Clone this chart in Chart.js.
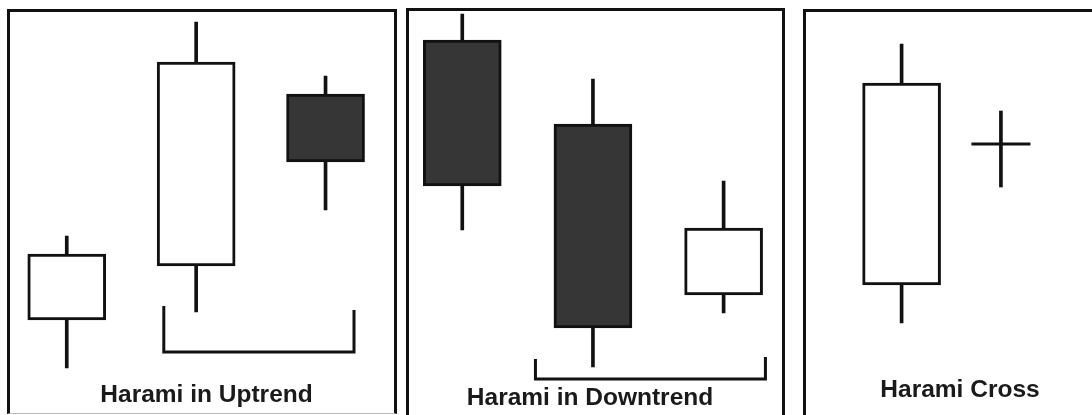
<!DOCTYPE html>
<html>
<head>
<meta charset="utf-8">
<script src="https://cdn.jsdelivr.net/npm/chart.js@4.4.0/dist/chart.umd.min.js"></script>
<style>
  html, body { margin: 0; padding: 0; background: #fff; }
  body { width: 1092px; height: 415px; overflow: hidden; position: relative; }
  .panel { position: absolute; border: 3px solid #111; box-sizing: border-box; }
  canvas { position: absolute; top: 12px; }
</style>
</head>
<body>
<div class="panel" style="left:7px;top:9px;width:390px;height:405px;border-bottom:1px solid #bbb"></div>
<div class="panel" style="left:406px;top:8px;width:379px;height:420px"></div>
<div class="panel" style="left:803px;top:9px;width:400px;height:420px"></div>
<canvas id="uptrend" width="383" height="403" style="left:15px"></canvas>
<canvas id="downtrend" width="360" height="403" style="left:410px"></canvas>
<canvas id="cross" width="236" height="403" style="left:842px"></canvas>
<script>
// harami in uptrend
const upSession = [1, 2, 3];
const upOpen  = [25, 38.5, 81.5];
const upClose = [41.5, 89.5, 64.5];
const upHigh  = [46, 99.5, 86];
const upLow   = [13, 27, 52.5];
const upBracketX = [1.75, 1.75, 3.22, 3.22];
const upBracketY = [28.5, 17, 17, 27.5];

// harami in downtrend
const downSession = [1, 2, 3];
const downOpen  = [95, 74, 31.25];
const downClose = [58.5, 23, 48];
const downHigh  = [101.5, 85.25, 59.75];
const downLow   = [47.5, 13.25, 26.75];
const downBracketX = [1.56, 1.56, 3.32, 3.32];
const downBracketY = [15.25, 10.25, 10.25, 15.75];

// harami cross
const crossSession = [1, 2];
const crossOpen  = [33.75, 69];
const crossClose = [84.25, 69];
const crossHigh  = [94, 77.25];
const crossLow   = [24.25, 58.25];

const ink = "#111";
const darkBody = "#363636";

function desenha_harami(id, titulo, session, open, close, high, low, bracketX, bracketY, xMin, xMax, padTop, padBottom) {
  const idx = session.map((s, i) => i);
  const bodies = idx.filter((i) => open[i] !== close[i]);
  const dojis = idx.filter((i) => open[i] === close[i]);

  const datasets = [
    {
      type: "bar",
      label: "corpo",
      data: bodies.map((i) => ({ x: session[i], y: [open[i], close[i]] })),
      backgroundColor: bodies.map((i) => (close[i] > open[i] ? "#fff" : darkBody)),
      borderColor: ink,
      borderWidth: 3,
      borderSkipped: false,
      barThickness: 78,
      grouped: false,
      order: 1,
      clip: false,
    },
    {
      type: "bar",
      label: "pavio",
      data: idx.map((i) => ({ x: session[i], y: [low[i], high[i]] })),
      backgroundColor: ink,
      borderWidth: 0,
      barThickness: 3,
      grouped: false,
      order: 2,
      clip: false,
    },
  ];

  if (dojis.length) {
    datasets.push({
      type: "line",
      label: "doji",
      data: dojis.map((i) => ({ x: session[i], y: open[i] })),
      showLine: false,
      pointStyle: "line",
      pointRadius: 29.5,
      pointBorderWidth: 3,
      pointBorderColor: ink,
      order: 0,
      clip: false,
    });
  }

  if (bracketX) {
    datasets.push({
      type: "line",
      label: "colchete",
      data: bracketX.map((x, i) => ({ x: x, y: bracketY[i] })),
      borderColor: ink,
      borderWidth: 3,
      pointRadius: 0,
      tension: 0,
      fill: false,
      order: 0,
      clip: false,
    });
  }

  const ctx = document.getElementById(id).getContext("2d");
  return new Chart(ctx, {
    type: "bar",
    data: { datasets: datasets },
    options: {
      responsive: false,
      animation: false,
      events: [],
      layout: { padding: 0, autoPadding: false },
      plugins: {
        legend: { display: false },
        tooltip: { enabled: false },
        title: {
          display: true,
          text: titulo,
          position: "bottom",
          color: "#1a1a1a",
          font: { family: "'Liberation Sans', Arial, sans-serif", size: 24.5, weight: "bold", lineHeight: "30px" },
          padding: { top: padTop, bottom: padBottom },
        },
      },
      scales: {
        x: { type: "linear", min: xMin, max: xMax, offset: false, display: false },
        y: { type: "linear", min: 12, max: 102, display: false },
      },
    },
  });
}

desenha_harami("uptrend", "Harami in Uptrend", upSession, upOpen, upClose, upHigh, upLow, upBracketX, upBracketY, 0.6, 3.56, 8, 5);
desenha_harami("downtrend", "Harami in Downtrend", downSession, downOpen, downClose, downHigh, downLow, downBracketX, downBracketY, 0.6, 3.355, 11, 2);
desenha_harami("cross", "Harami Cross", crossSession, crossOpen, crossClose, crossHigh, crossLow, null, null, 0.4, 2.776, 3, 10);
</script>
</body>
</html>
